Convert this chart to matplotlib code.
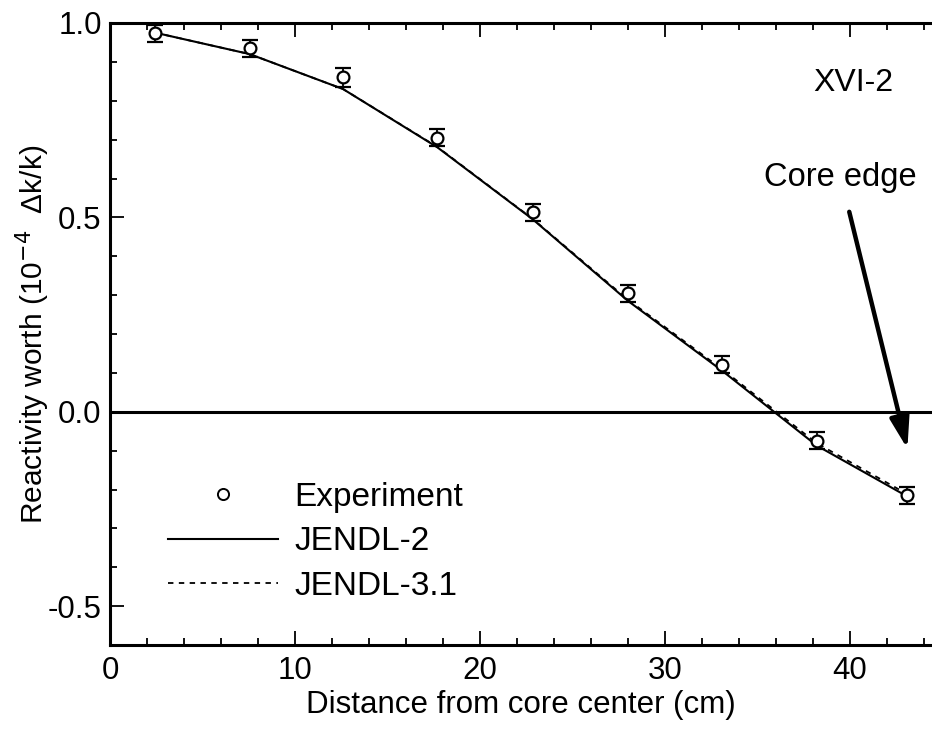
import matplotlib
matplotlib.use("Agg")
import matplotlib.pyplot as plt
from matplotlib.lines import Line2D
from matplotlib.ticker import MultipleLocator

plt.rcParams['font.family'] = ['Liberation Sans', 'DejaVu Sans']

# Data
distance = [2.45, 7.55, 12.6, 17.7, 22.85, 28.0, 33.1, 38.2, 43.1]
experiment = [0.974, 0.935, 0.860, 0.705, 0.513, 0.305, 0.121, -0.074, -0.215]
exp_err = [0.022, 0.022, 0.024, 0.022, 0.022, 0.022, 0.022, 0.022, 0.022]
jendl2 = [0.975, 0.920, 0.830, 0.680, 0.495, 0.285, 0.105, -0.087, -0.218]
jendl31 = [0.975, 0.920, 0.830, 0.681, 0.496, 0.288, 0.109, -0.081, -0.212]

xlabel = "Distance from core center (cm)"
ylabel = "Reactivity worth (10$^{-4}$  Δk/k)"

fig = plt.figure(figsize=(9.32, 7.3), dpi=100)
ax = fig.add_axes([110/932, 1 - 645/730, 1 - 110/932, (645 - 23)/730])

ax.plot(distance, jendl2, color='black', lw=1.5, label='JENDL-2', zorder=2)
ax.plot(distance, jendl31, color='black', lw=1.3, ls=(0, (3, 3)), label='JENDL-3.1', zorder=2)
ax.errorbar(distance, experiment, yerr=exp_err, fmt='o', mfc='white', mec='black',
            mew=1.6, ms=8.5, ecolor='black', elinewidth=1.3, capsize=5.5, capthick=1.6,
            zorder=3)
ax.axhline(0.0, color='black', lw=2.2, zorder=1)

ax.set_xlim(0, 44.43)
ax.set_ylim(-0.6, 1.0)
ax.xaxis.set_major_locator(MultipleLocator(10))
ax.xaxis.set_minor_locator(MultipleLocator(2))
ax.yaxis.set_minor_locator(MultipleLocator(0.1))
ax.set_yticks([-0.5, 0.0, 0.5, 1.0])
ax.set_yticklabels(['-0.5', '0.0', '0.5', '1.0'])

for s in ['left', 'bottom', 'top']:
    ax.spines[s].set_linewidth(2.2)
ax.spines['right'].set_visible(False)
ax.tick_params(which='both', direction='in', top=True, right=False, labelsize=22.5, width=1.3)
ax.tick_params(which='major', length=10)
ax.tick_params(which='minor', length=5)
ax.tick_params(axis='x', which='major', pad=8)
ax.tick_params(axis='y', which='major', pad=6)

ax.set_xlabel(xlabel, fontsize=22.5, labelpad=3)
ax.set_ylabel(ylabel, fontsize=21.5, labelpad=-3)

ax.text(40.2, 0.846, "XVI-2", fontsize=23, ha='center', va='center')
ax.annotate("Core edge", xy=(43.1, -0.095), xytext=(39.5, 0.603), fontsize=23.5,
            ha='center', va='center',
            arrowprops=dict(arrowstyle='-|>,head_length=0.8,head_width=0.25', color='black',
                            lw=3.2, shrinkA=12, shrinkB=0,
                            connectionstyle='arc3,rad=0.0'))

handles = [
    Line2D([], [], marker='o', ls='none', mfc='white', mec='black', mew=1.4, ms=8),
    Line2D([], [], color='black', lw=1.5),
    Line2D([], [], color='black', lw=1.3, ls=(0, (3, 3))),
]
labels = ['Experiment', 'JENDL-2', 'JENDL-3.1']
ax.legend(handles, labels, loc='upper left', bbox_to_anchor=(168/932, 1 - 482/730),
          bbox_transform=fig.transFigure, frameon=False, fontsize=24, handlelength=3.3,
          handletextpad=0.5, labelspacing=0.4, borderpad=0, borderaxespad=0)

fig.savefig("out.png", dpi=100)
